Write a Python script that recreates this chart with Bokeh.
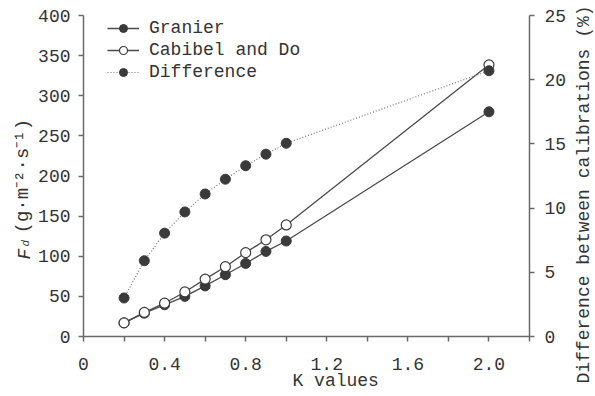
import numpy as np
from bokeh.plotting import figure
from bokeh.models import (Range1d, LinearAxis, FixedTicker, Legend, LegendItem, Label)
from bokeh.embed import file_html
from bokeh.resources import INLINE

# ---- data ----
k_values = [0.2, 0.3, 0.4, 0.5, 0.6, 0.7, 0.8, 0.9, 1.0, 2.0]
granier = [17, 29, 39.5, 50, 63, 77, 91, 106, 119, 280]
cabibel_do = [17, 30, 41.5, 55.5, 71.5, 87, 104.5, 120.5, 139, 338.5]
difference = [3.0, 5.9, 8.05, 9.7, 11.1, 12.25, 13.3, 14.2, 15.05, 20.7]

x_ticks = [0, 0.2, 0.4, 0.6, 0.8, 1.0, 1.2, 1.4, 1.6, 1.8, 2.0, 2.2]
x_tick_labels = ["0", "", "0.4", "", "0.8", "", "1.2", "", "1.6", "", "2.0", ""]
left_ticks = [0, 50, 100, 150, 200, 250, 300, 350, 400]
right_ticks = [0, 5, 10, 15, 20, 25]

legend_labels = ["Granier", "Cabibel and Do", "Difference"]

FONT = "Liberation Mono"
DARK = "#3a3a3a"
LINE = "#4a4a4a"
AXIS = "#6a6a6a"
TEXT = "#333333"

p = figure(frame_width=446, frame_height=321, min_border_left=83, min_border_right=66,
           min_border_top=15, min_border_bottom=60,
           x_range=Range1d(0, 2.2), y_range=Range1d(0, 400),
           output_backend="svg", toolbar_location=None)
p.extra_y_ranges = {"right": Range1d(0, 25)}
p.outline_line_color = None
p.xgrid.visible = False
p.ygrid.visible = False

p.xaxis.ticker = FixedTicker(ticks=x_ticks)
p.xaxis.major_label_overrides = {t: l for t, l in zip(x_ticks, x_tick_labels)}
p.yaxis.ticker = FixedTicker(ticks=left_ticks)

right_axis = LinearAxis(y_range_name="right", ticker=FixedTicker(ticks=right_ticks))
p.add_layout(right_axis, "right")

for ax in [p.xaxis[0], p.yaxis[0], right_axis]:
    ax.axis_line_color = AXIS
    ax.axis_line_width = 1.5
    ax.major_tick_line_color = AXIS
    ax.major_tick_line_width = 1.5
    ax.major_tick_out = 5
    ax.major_tick_in = 0
    ax.minor_tick_out = 0
    ax.minor_tick_in = 0
    ax.major_label_text_font = FONT
    ax.major_label_text_font_size = "18px"
    ax.major_label_text_color = TEXT
    ax.axis_label = None
p.xaxis.major_label_standoff = 16
p.yaxis.major_label_standoff = 8
right_axis.major_label_standoff = 10

r_g_line = p.line(k_values, granier, line_color=LINE, line_width=1.3)
r_c_line = p.line(k_values, cabibel_do, line_color=LINE, line_width=1.3)
r_g_pts = p.scatter(k_values, granier, size=10, fill_color=DARK, line_color=DARK)
r_c_pts = p.scatter(k_values, cabibel_do, size=10, fill_color="white", line_color=DARK, line_width=1.2)
r_d_line = p.line(k_values, difference, y_range_name="right", line_color="#777777",
                  line_width=1.2, line_dash="1 2")
r_d_pts = p.scatter(k_values, difference, y_range_name="right", size=10,
                    fill_color=DARK, line_color=DARK)

legend = Legend(items=[
    LegendItem(label=legend_labels[0], renderers=[r_g_line, r_g_pts]),
    LegendItem(label=legend_labels[1], renderers=[r_c_line, r_c_pts]),
    LegendItem(label=legend_labels[2], renderers=[r_d_line, r_d_pts]),
], location=(24, 254), orientation="vertical")
legend.glyph_width = 32
legend.glyph_height = 20
legend.label_height = 20
legend.label_standoff = 10
legend.spacing = 2
legend.padding = 0
legend.margin = 0
legend.border_line_color = None
legend.background_fill_alpha = 0
legend.label_text_font = FONT
legend.label_text_font_size = "18px"
legend.label_text_color = TEXT
p.add_layout(legend, "center")


def lab(side, x, y, text, size="18px", style="normal", angle=0.0, align="left", baseline="alphabetic"):
    p.add_layout(Label(x=x, y=y, x_units="screen", y_units="screen", text=text, angle=angle,
                       text_align=align, text_baseline=baseline,
                       text_font=FONT, text_font_size=size, text_font_style=style,
                       text_color=TEXT), side)


# left axis title: F_d (g·m⁻²·s⁻¹)
lab("left", 9, 103, "(g·m⁻²·s⁻¹)", size="19px", angle=np.pi / 2)
lab("left", 24, 90, "d", size="11px", style="italic", angle=np.pi / 2)
lab("above", -59, -244, "F", style="italic", angle=np.pi / 2)
# right axis title
lab("right", 14, 142, "Difference between calibrations (%)", angle=np.pi / 2,
    align="center", baseline="middle")
# bottom axis title
lab("below", 209, 12, "K values")

open("out.html", "w").write(file_html(p, INLINE))
